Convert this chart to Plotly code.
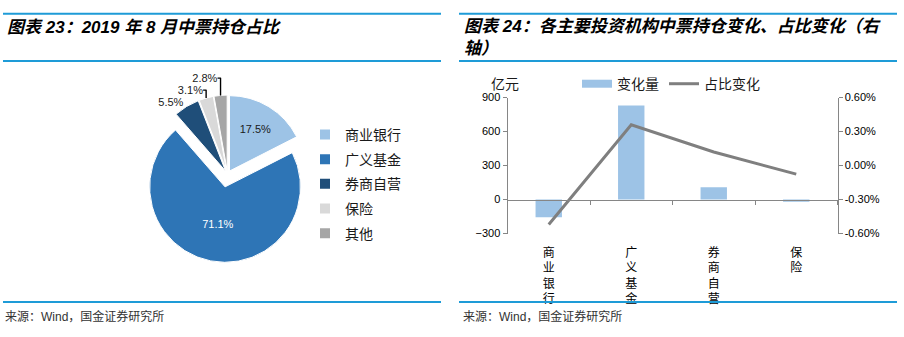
import plotly.graph_objects as go

W, H = 904, 337

# ---------------- data ----------------
pie_labels = ['商业银行', '广义基金', '券商自营', '保险', '其他']
pie_values = [17.5, 71.1, 5.5, 3.1, 2.8]
pie_colors = ['#9DC3E6', '#2E75B6', '#1F4E79', '#D9D9D9', '#A6A6A6']
pie_pull = [0.05, 0.17, 0.05, 0.05, 0.05]
pie_textpos = ['inside', 'inside', 'outside', 'outside', 'outside']
pie_textcolor = ['#1a1a1a', '#ffffff', '#1a1a1a', '#1a1a1a', '#1a1a1a']

bar_cats = ['商业银行', '广义基金', '券商自营', '保险']
bar_change = [-155, 830, 110, -20]          # 亿元
share_change = [-0.52, 0.36, 0.12, -0.075]  # 百分点
yl_ticks = [-300, 0, 300, 600, 900]
yr_ticks = [-0.6, -0.3, 0.0, 0.3, 0.6]

BAR_COLOR = '#9DC3E6'
LINE_COLOR = '#7F7F7F'
AXIS_COLOR = '#868686'
RULE_COLOR = '#1E9BD7'
CJK = 'Noto Sans CJK SC'
LAT = 'Liberation Sans, Noto Sans CJK SC'


def px(x):
    return x / W


def py(y):
    return 1 - y / H


fig = go.Figure()

# ---------------- pie ----------------
fig.add_trace(go.Pie(
    labels=pie_labels, values=pie_values, sort=False,
    direction='clockwise', rotation=0, pull=pie_pull,
    marker=dict(colors=pie_colors, line=dict(color='white', width=1)),
    texttemplate='%{value:.1f}%', textposition=pie_textpos,
    insidetextorientation='horizontal',
    textfont=dict(family=LAT, size=11, color=pie_textcolor),
    showlegend=False, hoverinfo='label+value',
    domain=dict(x=[px(136), px(319)], y=[py(266), py(83)]),
))

# pie legend (one entry per slice)
for lab, col in zip(pie_labels, pie_colors):
    fig.add_trace(go.Scatter(
        x=[None], y=[None], mode='markers', name=lab, legendgroup=lab,
        marker=dict(symbol='square', size=10, color=col),
        legend='legend', xaxis='x3', yaxis='y', hoverinfo='skip'))

# ---------------- bar + line ----------------
fig.add_trace(go.Bar(
    x=bar_cats, y=bar_change, marker=dict(color=BAR_COLOR, line=dict(width=0)),
    width=0.32, showlegend=False, xaxis='x', yaxis='y', name='变化量'))

fig.add_trace(go.Scatter(
    x=[None], y=[None], mode='lines', name='变化量',
    line=dict(color=BAR_COLOR, width=8), legend='legend2', legendrank=1,
    xaxis='x3', yaxis='y', hoverinfo='skip'))

fig.add_trace(go.Scatter(
    x=bar_cats, y=share_change, mode='lines', name='占比变化',
    line=dict(color=LINE_COLOR, width=3), legend='legend2', legendrank=2,
    xaxis='x', yaxis='y2'))

ydom = [py(236), py(95)]
xdom = [px(507.5), px(837.5)]
yl_range = [min(yl_ticks), max(yl_ticks)]
zero_pos = ydom[0] + (0 - yl_range[0]) / (yl_range[1] - yl_range[0]) * (ydom[1] - ydom[0])
n = len(bar_cats)
cat_range = [-0.5, n - 0.5]

tickfont = dict(family=LAT, size=11, color='#000000')

fig.update_layout(
    width=W, height=H, margin=dict(l=0, r=0, t=0, b=0),
    paper_bgcolor='white', plot_bgcolor='rgba(0,0,0,0)',
    xaxis=dict(domain=xdom, anchor='y', type='category', range=cat_range,
               tickmode='array', tickvals=bar_cats,
               ticktext=['<br>'.join(list(c)) for c in bar_cats],
               tickfont=dict(family=CJK, size=12, color='#000000'),
               ticklabelstandoff=10,
               showline=False, ticks='', showgrid=False, zeroline=False),
    xaxis3=dict(overlaying='x', anchor='free', position=zero_pos,
                range=cat_range, tickmode='array',
                tickvals=[i - 0.5 for i in range(n + 1)],
                ticks='outside', ticklen=4, tickcolor=AXIS_COLOR,
                showline=True, linecolor=AXIS_COLOR, linewidth=1,
                showticklabels=False, showgrid=False, zeroline=False),
    yaxis=dict(domain=ydom, anchor='x', range=yl_range, tickmode='array',
               tickvals=yl_ticks, ticks='outside', ticklen=4,
               tickcolor=AXIS_COLOR, showline=True, linecolor=AXIS_COLOR,
               showgrid=False, zeroline=False, tickfont=tickfont),
    yaxis2=dict(overlaying='y', side='right', anchor='x',
                range=[min(yr_ticks), max(yr_ticks)], tickmode='array',
                tickvals=yr_ticks, ticktext=[f'{v:.2f}%' for v in yr_ticks],
                ticks='outside', ticklen=4, tickcolor=AXIS_COLOR,
                showline=True, linecolor=AXIS_COLOR, showgrid=False,
                zeroline=False, tickfont=tickfont),
    legend=dict(x=px(305), y=py(117), xanchor='left', yanchor='top',
                font=dict(family=CJK, size=14, color='#1a1a1a'),
                tracegroupgap=3.5, itemwidth=30, bgcolor='rgba(0,0,0,0)',
                traceorder='grouped'),
    legend2=dict(orientation='h', x=px(577), y=py(81), xanchor='left',
                 yanchor='middle', font=dict(family=CJK, size=14, color='#1a1a1a'),
                 itemwidth=30, bgcolor='rgba(0,0,0,0)'),
    showlegend=True,
)

# ---------------- text ----------------
title_font = dict(family=LAT, size=17, color='#000000', weight='bold', style='italic')
ann = [
    dict(text='图表 23：2019 年 8 月中票持仓占比', x=px(5), y=py(22),
         xanchor='left', yanchor='middle', font=title_font),
    dict(text='图表 24：各主要投资机构中票持仓变化、占比变化（右<br>轴）',
         x=px(462), y=py(33), xanchor='left', yanchor='middle', align='left',
         font=title_font),
    dict(text='亿元', x=px(505), y=py(80), xanchor='center', yanchor='middle',
         font=dict(family=CJK, size=14, color='#1a1a1a')),
    dict(text='来源：Wind，国金证券研究所', x=px(3), y=py(322), xanchor='left',
         yanchor='middle', font=dict(family=LAT, size=12, color='#333333')),
    dict(text='来源：Wind，国金证券研究所', x=px(461), y=py(322), xanchor='left',
         yanchor='middle', font=dict(family=LAT, size=12, color='#333333')),
]
for a in ann:
    a.update(xref='paper', yref='paper', showarrow=False)
fig.update_layout(annotations=ann)

shapes = []
for (x0, x1) in [(3, 441), (459, 897)]:
    for yy in (8, 57, 307):
        shapes.append(dict(type='line', xref='paper', yref='paper',
                           x0=px(x0), x1=px(x1), y0=py(yy), y1=py(yy),
                           line=dict(color=RULE_COLOR, width=2)))
fig.update_layout(shapes=shapes)

fig.write_html('out.html')
